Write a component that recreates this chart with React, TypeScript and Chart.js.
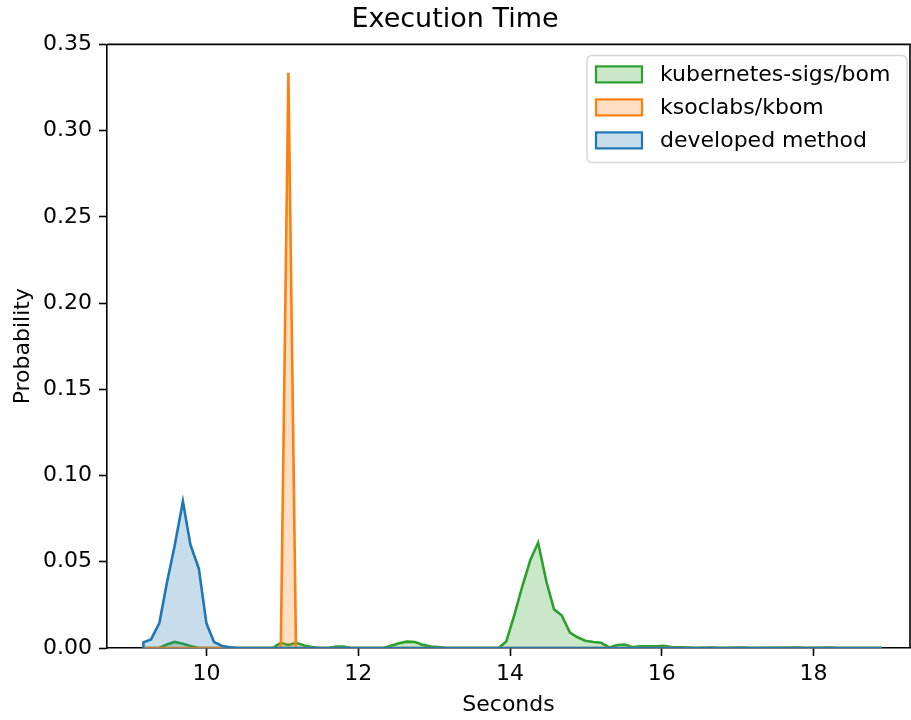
import React, { useEffect, useRef } from "react";
import { Chart, registerables } from "chart.js";

Chart.register(...registerables);

const seriesNames = ["developed method", "ksoclabs/kbom", "kubernetes-sigs/bom"];
const seriesColors = ["#1f77b4", "#ff7f0e", "#2ca02c"];
const seriesFills = ["rgba(31,119,180,0.25)", "rgba(255,127,14,0.25)", "rgba(44,160,44,0.25)"];

const devX = [9.17, 9.17, 9.27, 9.38, 9.48, 9.58, 9.69, 9.79, 9.9, 10.0, 10.1, 10.21, 10.31, 10.42, 18.9];
const devY = [0, 0.0033, 0.005, 0.0145, 0.038, 0.059, 0.085, 0.0597, 0.046, 0.0143, 0.0035, 0.0012, 0.0004, 0, 0];

const kbomX = [9.17, 10.98, 11.08, 11.18, 18.9];
const kbomY = [0, 0, 0.3335, 0, 0];

const k8sX = [9.17, 9.38, 9.48, 9.58, 9.69, 9.79, 9.9, 10.87, 10.98, 11.08, 11.18, 11.29, 11.39, 11.5, 11.6, 11.71, 11.81, 11.91, 12.33, 12.44, 12.54, 12.64, 12.75, 12.85, 12.96, 13.06, 13.16, 13.85, 13.95, 14.06, 14.16, 14.27, 14.37, 14.48, 14.58, 14.68, 14.79, 14.89, 14.99, 15.1, 15.2, 15.31, 15.41, 15.51, 15.62, 15.72, 15.83, 15.93, 16.03, 16.14, 16.24, 16.35, 16.45, 16.66, 16.76, 17.07, 17.18, 17.8, 17.9, 18.21, 18.32, 18.9];
const k8sY = [0, 0, 0.002, 0.0035, 0.0025, 0.0012, 0, 0, 0.003, 0.0017, 0.003, 0.0015, 0.0005, 0, 0, 0.0008, 0.0008, 0, 0, 0.0015, 0.0028, 0.0037, 0.0035, 0.0018, 0.0008, 0.0006, 0, 0, 0.0037, 0.0196, 0.0355, 0.0514, 0.061, 0.0384, 0.0224, 0.019, 0.0089, 0.0062, 0.0042, 0.0035, 0.003, 0.0003, 0.0017, 0.002, 0.0005, 0.001, 0.001, 0.001, 0.0013, 0.0004, 0.0004, 0.0002, 0, 0.0003, 0, 0.0002, 0, 0.0002, 0, 0.0003, 0, 0];

const xTicks = [10, 12, 14, 16, 18];
const yTicks = [0, 0.05, 0.1, 0.15, 0.2, 0.25, 0.3, 0.35];

const FONT = "'DejaVu Sans', sans-serif";

function pts(xs: number[], ys: number[]) {
  return xs.map((x, i) => ({ x, y: ys[i] }));
}

const framePlugin = {
  id: "frame",
  afterDraw(chart: any) {
    const { ctx, chartArea } = chart;
    const { left, right, top, bottom } = chartArea;
    ctx.save();
    ctx.strokeStyle = "#000";
    ctx.lineWidth = 1.6;
    ctx.beginPath();
    ctx.moveTo(left, top);
    ctx.lineTo(right, top);
    ctx.lineTo(right, bottom);
    ctx.stroke();

    // legend
    const order = [2, 1, 0];
    ctx.font = "22px " + FONT;
    const bx = right - 323;
    const by = top + 11;
    const bw = 320;
    const bh = 107;
    ctx.fillStyle = "rgba(255,255,255,0.8)";
    ctx.strokeStyle = "rgba(204,204,204,0.8)";
    ctx.lineWidth = 1.5;
    ctx.beginPath();
    (ctx as any).roundRect(bx, by, bw, bh, 5);
    ctx.fill();
    ctx.stroke();
    order.forEach((si, i) => {
      const cy = by + 19 + i * 33;
      ctx.fillStyle = seriesFills[si];
      ctx.fillRect(bx + 9, cy - 8, 46, 16);
      ctx.strokeStyle = seriesColors[si];
      ctx.lineWidth = 2.2;
      ctx.strokeRect(bx + 9, cy - 8, 46, 16);
      ctx.fillStyle = "#000";
      ctx.textAlign = "left";
      ctx.textBaseline = "middle";
      ctx.fillText(seriesNames[si], bx + 73, cy + 1);
    });
    ctx.restore();
  },
};

export default function App() {
  const ref = useRef<HTMLCanvasElement | null>(null);
  useEffect(() => {
    document.body.style.margin = "0";
    const canvas = ref.current!;
    const datasets = [
      [devX, devY],
      [kbomX, kbomY],
      [k8sX, k8sY],
    ].map(([xs, ys], i) => ({
      label: seriesNames[i],
      data: pts(xs, ys),
      borderColor: seriesColors[i],
      backgroundColor: seriesFills[i],
      borderWidth: 2.6,
      pointRadius: 0,
      tension: 0,
      fill: "origin",
    }));
    const chart = new Chart(canvas, {
      type: "line",
      data: { datasets },
      plugins: [framePlugin],
      options: {
        animation: false,
        responsive: false,
        devicePixelRatio: 1,
        layout: { padding: { top: 0, right: 1, left: 0, bottom: 0 } },
        plugins: {
          legend: { display: false },
          tooltip: { enabled: false },
          title: {
            display: true,
            text: "Execution Time",
            color: "#000",
            font: { family: FONT, size: 27, weight: "normal" },
            padding: { top: 4, bottom: 8 },
          },
        },
        scales: {
          x: {
            type: "linear",
            min: 8.69,
            max: 19.27,
            afterFit: (s: any) => {
              s.height = 72;
            },
            afterBuildTicks: (s: any) => {
              s.ticks = xTicks.map((v) => ({ value: v }));
            },
            ticks: {
              color: "#000",
              font: { family: FONT, size: 22 },
              padding: 5,
              maxRotation: 0,
              callback: (v: any) => String(v),
            },
            grid: {
              drawOnChartArea: false,
              drawTicks: true,
              tickLength: 8,
              tickWidth: 1.6,
              tickColor: "#000",
            },
            border: { display: true, color: "#000", width: 1.6 },
            title: {
              display: true,
              text: "Seconds",
              color: "#000",
              font: { family: FONT, size: 22 },
              padding: { top: 0, bottom: 2 },
            },
          },
          y: {
            type: "linear",
            min: 0,
            max: 0.35,
            afterFit: (s: any) => {
              s.width = 107;
            },
            afterBuildTicks: (s: any) => {
              s.ticks = yTicks.map((v) => ({ value: v }));
            },
            ticks: {
              color: "#000",
              font: { family: FONT, size: 22 },
              padding: 7,
              callback: (v: any) => Number(v).toFixed(2),
            },
            grid: {
              drawOnChartArea: false,
              drawTicks: true,
              tickLength: 8,
              tickWidth: 1.6,
              tickColor: "#000",
            },
            border: { display: true, color: "#000", width: 1.6 },
            title: {
              display: true,
              text: "Probability",
              color: "#000",
              font: { family: FONT, size: 22 },
              padding: { top: 10, bottom: 0 },
            },
          },
        },
      },
    } as any);
    return () => chart.destroy();
  }, []);
  return (
    <div style={{ width: 911, height: 720 }}>
      <canvas ref={ref} width={911} height={720} />
    </div>
  );
}
